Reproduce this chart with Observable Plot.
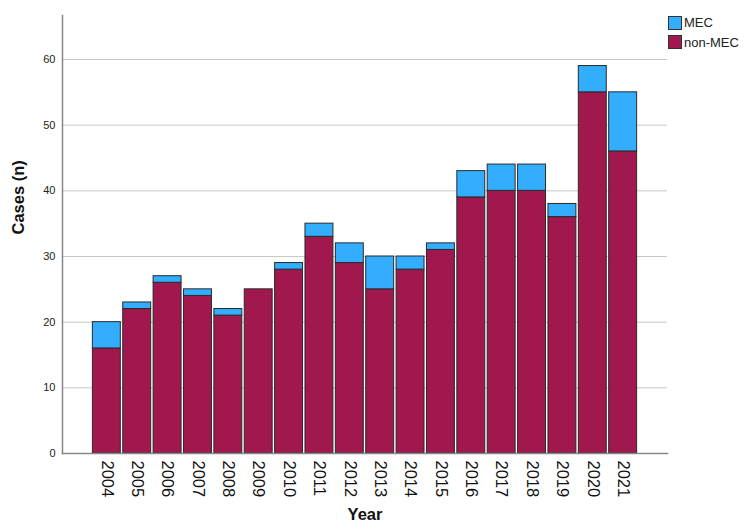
<!DOCTYPE html>
<html><head><meta charset="utf-8">
<script src="https://cdn.jsdelivr.net/npm/d3@7"></script>
<script src="https://cdn.jsdelivr.net/npm/@observablehq/plot@0.6"></script>
<style>
body{margin:0;background:#fff;font-family:"Liberation Sans",Arial,sans-serif;}
#wrap{position:relative;width:744px;height:531px;}
#legend{position:absolute;left:668px;top:13px;font-size:13px;color:#222;}
#legend div{display:flex;align-items:center;height:19.5px;}
#legend span.sw{display:inline-block;width:12px;height:12px;border:1px solid #333;margin-right:2px;}
</style></head>
<body><div id="wrap"><div id="legend"></div></div>
<script>
const years = ["2004","2005","2006","2007","2008","2009","2010","2011","2012","2013","2014","2015","2016","2017","2018","2019","2020","2021"];
const nonMEC = [16,22,26,24,21,25,28,33,29,25,28,31,39,40,40,36,55,46];
const mec    = [4,1,1,1,1,0,1,2,3,5,2,1,4,4,4,2,4,9];
const seriesNames = ["MEC","non-MEC"];
const seriesColors = ["#33AEFF","#A0184E"];
const yTicks = [0,10,20,30,40,50,60];

const data = [];
years.forEach((y,i)=>{
  data.push({year:y, group:"non-MEC", value:nonMEC[i], order:0});
  data.push({year:y, group:"MEC", value:mec[i], order:1});
});

const chart = Plot.plot({
  width:744, height:531,
  marginTop:15, marginLeft:62, marginRight:77, marginBottom:78,
  style:{fontFamily:"Liberation Sans, Arial, sans-serif", background:"#fff"},
  x:{domain:years, paddingInner:0.08, paddingOuter:1.0, round:false, label:null},
  y:{domain:[0,66.7], label:null},
  color:{domain:seriesNames, range:seriesColors},
  marks:[
    Plot.ruleY(yTicks.filter(d=>d>0), {stroke:"#c8c8c8", strokeWidth:1}),
    Plot.barY(data, Plot.stackY({order:"order"}, {x:"year", y:"value", z:"group", fill:"group", stroke:"#2a2a2a", strokeWidth:1})),
    Plot.axisY({ticks:yTicks, tickSize:0, tickPadding:7, fontSize:11, fill:"#222", label:null}),
    Plot.axisX({tickRotate:90, tickSize:0, tickPadding:7, fontSize:16.5, fill:"#111", label:null}),
    Plot.frame({anchor:"left", stroke:"#888", strokeWidth:1.5}),
    Plot.frame({anchor:"bottom", stroke:"#888", strokeWidth:1.5}),
    Plot.text(["Cases (n)"], {frameAnchor:"left", dx:-44, rotate:-90, fontSize:16.5, fontWeight:"bold", fill:"#111"}),
    Plot.text(["Year"], {frameAnchor:"bottom", dy:66, fontSize:16.5, fontWeight:"bold", fill:"#111"})
  ]
});
document.getElementById("wrap").prepend(chart);

const lg = d3.select("#legend");
seriesNames.forEach((n,i)=>{
  const row = lg.append("div");
  row.append("span").attr("class","sw").style("background",seriesColors[i]);
  row.append("span").text(n);
});
</script></body></html>
